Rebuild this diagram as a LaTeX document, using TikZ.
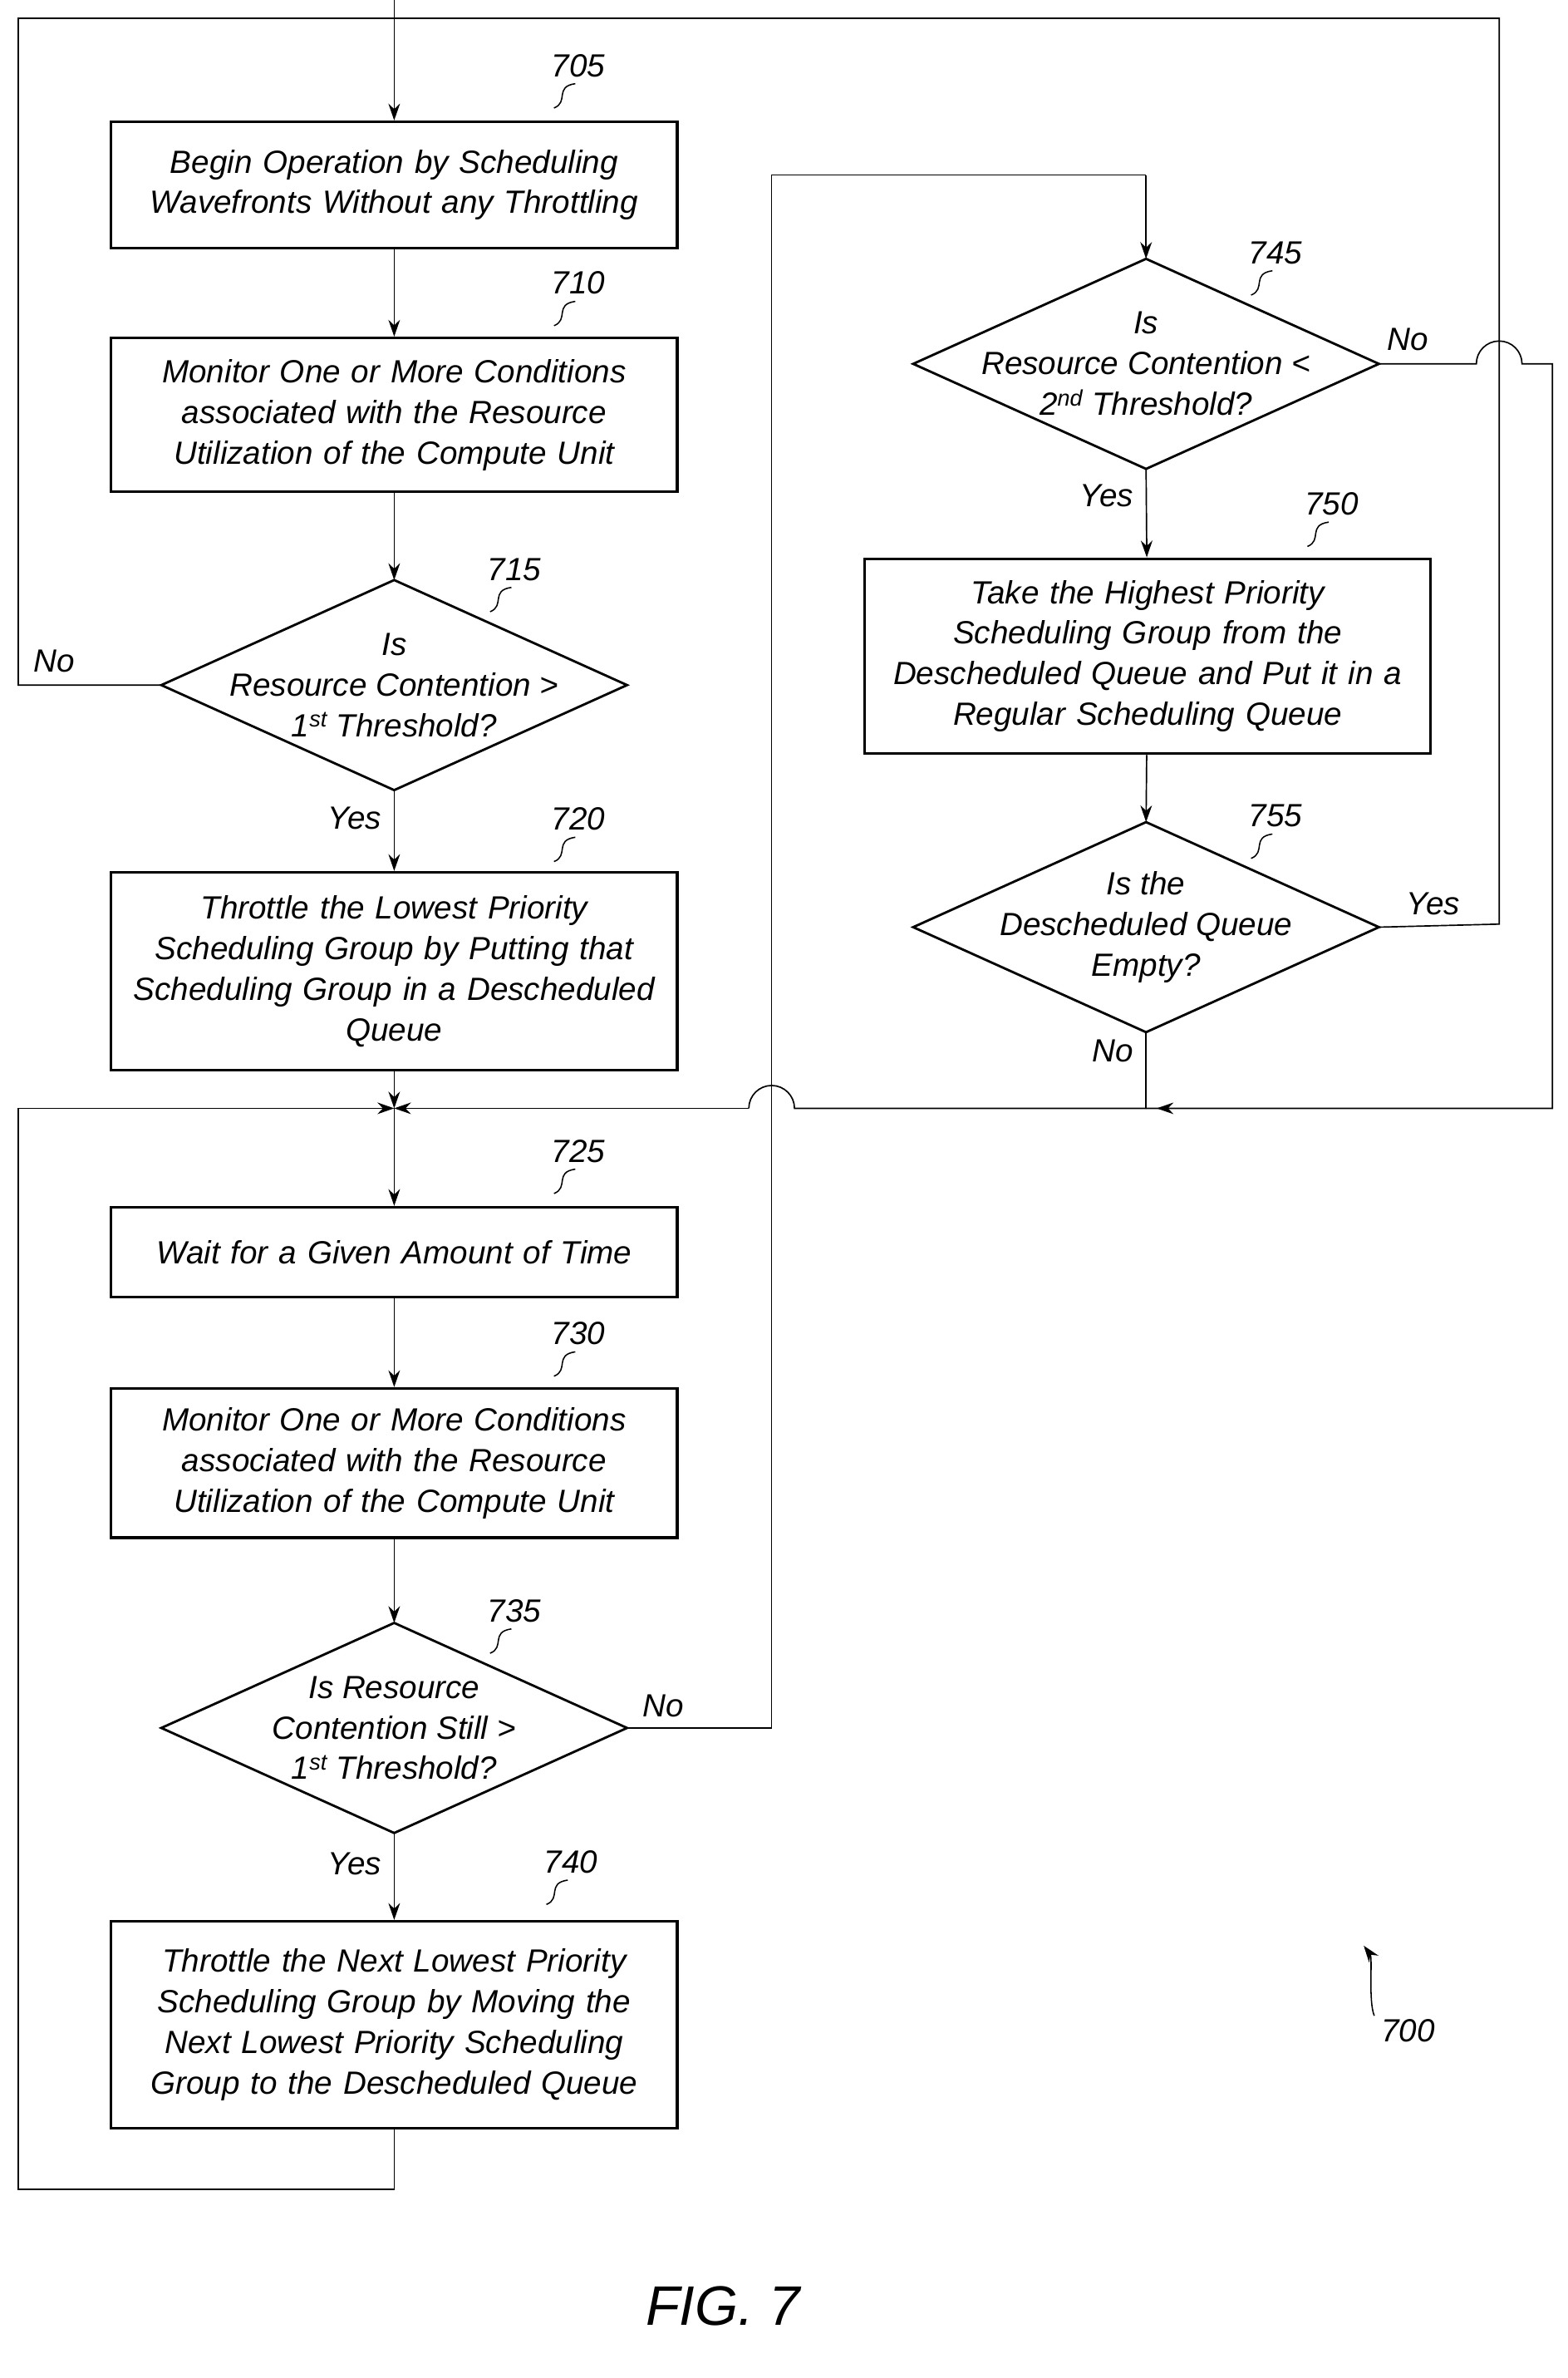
\documentclass[tikz,border=0pt]{standalone}
\usepackage{fontspec}
\setmainfont{Liberation Sans}
\usetikzlibrary{calc,arrows.meta,positioning}

\newcommand\decision[3]{%
  \node[dtext] (#1) at #2 {#3};
  \coordinate (#1-w) at ($#2+(-153,0)$);
  \coordinate (#1-e) at ($#2+(153,0)$);
  \coordinate (#1-n) at ($#2+(0,-69)$);
  \coordinate (#1-s) at ($#2+(0,69)$);
  \draw[shape line] (#1-n) -- (#1-e) -- (#1-s) -- (#1-w) -- cycle;}
\newcommand\refnum[3]{% name, position, text
  \node[ref] (#1) at #2 {#3};
  \draw[thin line] ($(#1.south)+(-2,2)$) .. controls +(-14,2) and +(10,-4) .. +(-14,16);}

\begin{document}
\begin{tikzpicture}[x=0.05cm,y=-0.05cm,
    txt/.style={font=\fontsize{30}{38}\selectfont\itshape},
    box/.style={draw, line width=2.6pt, txt, align=center, minimum width=372*0.05cm,
                text width=370*0.05cm, inner sep=0pt},
    dtext/.style={txt, align=center, inner sep=0pt},
    shape line/.style={line width=2.2pt},
    ref/.style={txt},
    lbl/.style={txt},
    thin line/.style={line width=1.2pt},
    flow/.style={line width=1.3pt},
    arr/.style={flow, -{Stealth[length=0.55cm,width=0.38cm]}}]
  \useasboundingbox (0,0) rectangle (1030,1562);

  % boxes
  \node[box, minimum height=83*0.05cm] (b705) at (259,121.5) {Begin Operation by Scheduling\\Wavefronts Without any Throttling};
  \node[box, minimum height=101*0.05cm] (b710) at (259,272.5) {Monitor One or More Conditions\\associated with the Resource\\Utilization of the Compute Unit};
  \decision{d715}{(259,450)}{Is\\Resource Contention >\\1\textsuperscript{st} Threshold?}
  \node[box, minimum height=130*0.05cm] (b720) at (259,638) {Throttle the Lowest Priority\\Scheduling Group by Putting that\\Scheduling Group in a Descheduled\\Queue};
  \coordinate (j1) at (259,728);
  \node[box, minimum height=59*0.05cm] (b725) at (259,822.5) {Wait for a Given Amount of Time};
  \node[box, minimum height=98*0.05cm] (b730) at (259,961) {Monitor One or More Conditions\\associated with the Resource\\Utilization of the Compute Unit};
  \decision{d735}{(259,1135)}{Is Resource\\Contention Still >\\1\textsuperscript{st} Threshold?}
  \node[box, minimum height=136*0.05cm] (b740) at (259,1330) {Throttle the Next Lowest Priority\\Scheduling Group by Moving the\\Next Lowest Priority Scheduling\\Group to the Descheduled Queue};
  \decision{d745}{(753,239)}{Is\\Resource Contention <\\2\textsuperscript{nd} Threshold?}
  \node[box, minimum height=128*0.05cm] (b750) at (754,431) {Take the Highest Priority\\Scheduling Group from the\\Descheduled Queue and Put it in a\\Regular Scheduling Queue};
  \decision{d755}{(753,609)}{Is the\\Descheduled Queue\\Empty?}
  \coordinate (j2) at (753,728);

  % reference numerals
  \refnum{r705}{(380,43)}{705}
  \refnum{r710}{(380,186)}{710}
  \refnum{r715}{(338,374)}{715}
  \refnum{r720}{(380,538)}{720}
  \refnum{r725}{(380,756)}{725}
  \refnum{r730}{(380,876)}{730}
  \refnum{r735}{(338,1058)}{735}
  \refnum{r740}{(375,1223)}{740}
  \refnum{r745}{(838,166)}{745}
  \refnum{r750}{(875,331)}{750}
  \refnum{r755}{(838,536)}{755}

  % main column
  \draw[arr] (259,0) -- (b705);
  \draw[arr] (b705) -- (b710);
  \draw[arr] (b710) -- (d715-n);
  \draw[arr] (d715-s) -- node[lbl, left=8pt, pos=0.35] {Yes} (b720);
  \draw[arr] (b720) -- (j1);
  \draw[arr] (j1) -- (b725);
  \draw[arr] (b725) -- (b730);
  \draw[arr] (b730) -- (d735-n);
  \draw[arr] (d735-s) -- node[lbl, left=8pt, pos=0.35] {Yes} (b740);
  \draw[arr] (b740.south) -- (259,1438) -- (12,1438) -- (12,728) -- (j1);
  \draw[flow] (d715-w) -- node[lbl, above=8pt, pos=0.75] {No} (12,450) -- (12,12) -- (985,12) -- (985,607) -- node[lbl, above=6pt, pos=0.55] {Yes} (d755-e);

  % right column
  \draw[flow] (d735-e) -- node[lbl, above=6pt, pos=0.25] {No} (507,1135) -- (507,115) -- (753,115);
  \draw[arr] (753,115) -- (d745-n);
  \draw[arr] (d745-s) -- node[lbl, left=8pt, pos=0.3] {Yes} (b750);
  \draw[arr] (b750) -- (d755-n);
  \draw[flow] (d755-s) -- node[lbl, left=8pt, pos=0.25] {No} (j2);
  \draw[flow] (d745-e) -- node[lbl, above=8pt, pos=0.3] {No} (970,239)
    arc[start angle=180, end angle=360, radius=15] -- (1020,239) -- (1020,728) -- (j2);
  \draw[arr] (1020,728) -- (760,728);
  \draw[flow] (j2) -- (522,728) arc[start angle=0, end angle=-180, radius=15];
  \draw[arr] (492,728) -- (j1);

  % figure numbers
  \node[ref] (r700) at (925,1334) {700};
  \draw[arr, thin line] ($(r700.north west)+(-2,0)$) .. controls +(-4,-10) and +(6,8) .. (896,1278);
  \node[font=\fontsize{52}{60}\selectfont\itshape] (fig) at (475,1515) {FIG. 7};
\end{tikzpicture}
\end{document}
